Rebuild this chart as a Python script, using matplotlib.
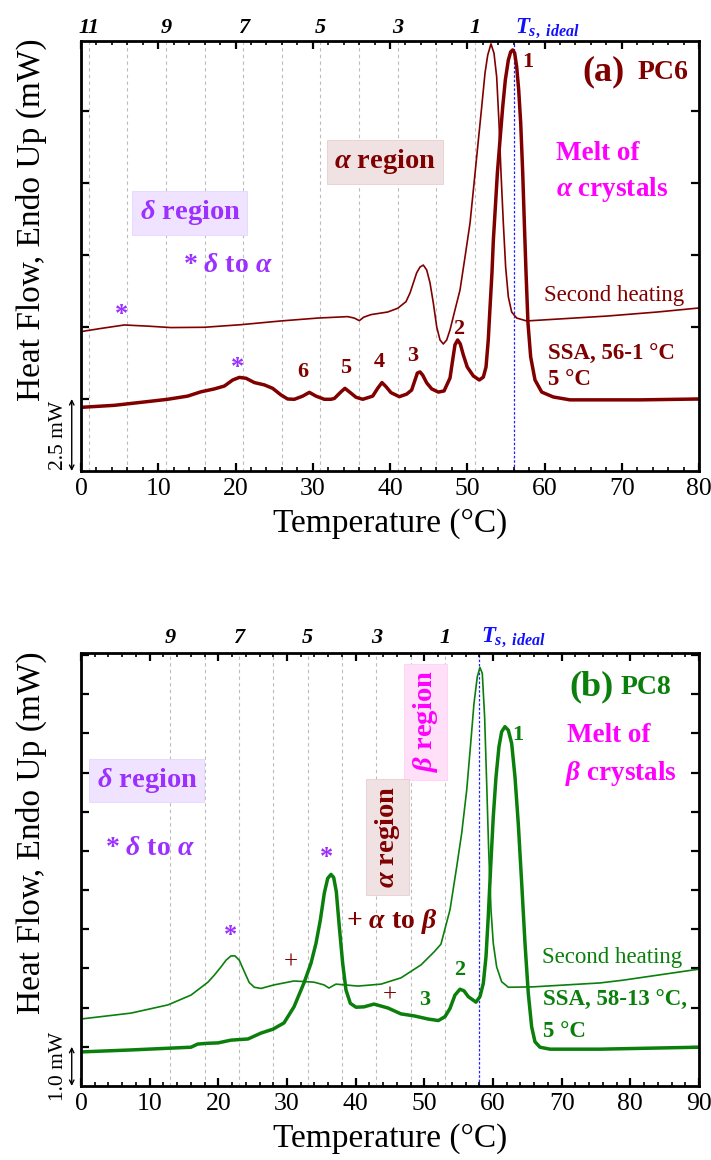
import numpy as np
import matplotlib
matplotlib.use("Agg")
import matplotlib.pyplot as plt
from matplotlib.ticker import MultipleLocator, NullFormatter
import matplotlib.transforms as mtransforms

plt.rcParams['font.family'] = ['Liberation Serif', 'DejaVu Serif']
plt.rcParams['mathtext.fontset'] = 'custom'
plt.rcParams['mathtext.it'] = 'Liberation Serif:italic:bold'
plt.rcParams['mathtext.rm'] = 'Liberation Serif:bold'
plt.rcParams['mathtext.bf'] = 'Liberation Serif:bold'

#%% data, panel (a) PC6  (temperature in °C, heat flow in mW, shifted)

a_ssa_T = [0.0, 4.31, 8.63, 11.22, 13.8, 15.53, 17.26, 18.56, 19.64, 20.5, 21.36, 22.44,
           23.73, 24.81, 25.89, 26.75, 27.62, 28.7, 29.56, 30.42, 31.5, 32.36, 32.8, 33.66,
           34.17, 34.73, 35.6, 36.47, 37.76, 38.4, 38.96, 39.48, 40.13, 41.21, 42.16, 42.8,
           43.24, 43.54, 43.88, 44.23, 44.75, 45.4, 46.26, 47.0, 47.77, 48.11, 48.41, 48.76,
           49.1, 49.49, 50.0, 50.79, 51.56, 52.08, 52.43, 52.72, 52.95, 53.2, 53.38, 53.64,
           53.9, 54.24, 54.59, 54.93, 55.32, 55.62, 55.88, 56.14, 56.40, 56.66, 56.92, 57.18,
           57.39, 57.61, 57.86, 58.21, 58.77, 59.64, 61.14, 63.3, 72.4, 80.0]
a_ssa_H = [2.21, 2.28, 2.41, 2.49, 2.60, 2.75, 2.85, 2.95, 3.16, 3.25, 3.22, 3.07,
           2.99, 2.87, 2.64, 2.50, 2.49, 2.60, 2.73, 2.60, 2.49, 2.49, 2.52, 2.75,
           2.87, 2.75, 2.56, 2.49, 2.60, 2.87, 3.07, 2.93, 2.72, 2.58, 2.67, 2.81,
           3.16, 3.40, 3.44, 3.33, 3.06, 2.85, 2.74, 2.78, 3.23, 3.85, 4.38, 4.55,
           4.41, 4.03, 3.61, 3.30, 3.16, 3.26, 3.61, 4.55, 5.69, 6.88, 8.02, 9.17,
           10.35, 11.49, 12.64, 13.58, 14.27, 14.55, 14.62, 14.51, 14.03, 13.23, 12.08, 10.35,
           8.61, 6.88, 5.14, 3.96, 3.16, 2.74, 2.57, 2.47, 2.47, 2.50]

a_sec_T = [0.0, 2.59, 5.61, 8.63, 11.65, 15.96, 20.71, 25.89, 30.64, 34.52, 35.38, 36.03,
           36.59, 37.54, 39.7, 41.0, 42.07, 42.59, 43.02, 43.45, 43.88, 44.31, 44.75, 45.18,
           45.61, 46.05, 46.47, 46.9, 47.34, 47.77, 48.41, 49.06, 49.71, 50.36, 50.92, 51.44,
           51.87, 52.30, 52.65, 53.07, 53.46, 53.81, 54.11, 54.37, 54.67, 54.97, 55.32, 55.75,
           56.40, 57.69, 62.0, 68.1, 74.6, 80.0]
a_sec_H = [4.84, 4.95, 5.07, 5.03, 4.98, 4.99, 5.08, 5.21, 5.31, 5.36, 5.31, 5.22,
           5.34, 5.43, 5.52, 5.65, 5.88, 6.18, 6.53, 6.88, 7.08, 7.15, 6.98, 6.53,
           5.83, 5.00, 4.55, 4.41, 4.55, 4.90, 5.59, 6.28, 7.43, 8.61, 10.10, 11.49,
           12.64, 13.82, 14.44, 14.83, 14.51, 13.68, 12.08, 10.35, 8.61, 7.08, 6.04, 5.52,
           5.31, 5.21, 5.28, 5.38, 5.52, 5.66]

a_ts = 56
a_steps = [51, 46, 41, 36, 31, 26, 21, 16, 11, 6, 1]
a_step_labels = {51: '1', 41: '3', 31: '5', 21: '7', 11: '9', 1: '11'}

#%% data, panel (b) PC8

b_ssa_T = [0.0, 7.28, 13.54, 16.02, 16.99, 18.45, 19.95, 21.84, 24.32, 26.21, 27.96, 29.56,
           31.02, 32.47, 33.49, 34.22, 34.85, 35.43, 35.93, 36.41, 36.8, 37.18, 37.62, 38.11,
           38.59, 39.22, 40.05, 41.21, 42.67, 44.71, 46.60, 48.49, 50.53, 52.04, 53.01, 53.74,
           54.46, 55.19, 55.77, 56.4, 57.04, 57.52, 58.1, 58.59, 58.98, 59.31, 59.66, 60.04,
           60.44, 60.87, 61.26, 61.74, 62.23, 62.72, 63.2, 63.68, 64.18, 64.66, 65.14, 65.63,
           66.11, 66.84, 68.3, 75.6, 90.0]
b_ssa_H = [0.87, 0.92, 0.97, 0.99, 1.07, 1.09, 1.10, 1.17, 1.20, 1.35, 1.45, 1.61,
           2.02, 2.63, 3.13, 3.64, 4.23, 4.92, 5.30, 5.40, 5.32, 4.96, 4.06, 3.13,
           2.45, 2.11, 2.01, 2.02, 2.09, 1.99, 1.84, 1.79, 1.71, 1.67, 1.77, 1.98,
           2.32, 2.47, 2.43, 2.28, 2.20, 2.14, 2.28, 2.62, 3.30, 4.32, 5.59, 6.87,
           7.89, 8.66, 9.04, 9.17, 9.08, 8.74, 7.89, 6.70, 5.17, 3.64, 2.36, 1.51,
           1.13, 0.99, 0.94, 0.94, 0.99]

b_sec_T = [0.0, 7.28, 12.67, 16.02, 18.49, 19.42, 20.39, 21.12, 21.84, 22.43, 23.05, 23.78,
           24.5, 25.24, 26.21, 28.11, 31.02, 33.93, 35.39, 36.11, 37.13, 40.34, 43.69, 46.60,
           49.51, 51.41, 52.42, 53.74, 54.71, 55.44, 56.17, 56.75, 57.23, 57.71, 58.1, 58.44,
           58.78, 59.08, 59.37, 59.71, 60.04, 60.53, 61.26, 62.23, 65.82, 75.58, 78.93, 89.12,
           90.0]
b_sec_H = [1.71, 1.86, 2.07, 2.32, 2.65, 2.83, 3.04, 3.21, 3.32, 3.32, 3.21, 2.92,
           2.64, 2.52, 2.49, 2.58, 2.68, 2.65, 2.58, 2.50, 2.60, 2.55, 2.60, 2.76,
           3.09, 3.42, 3.62, 4.50, 5.59, 6.45, 7.55, 8.74, 9.76, 10.44, 10.68, 10.53,
           9.42, 7.72, 6.02, 4.49, 3.64, 3.04, 2.66, 2.52, 2.53, 2.63, 2.70, 2.96,
           2.98]

b_ts = 58
b_steps = [53, 48, 43, 38, 33, 28, 23, 18, 13]
b_step_labels = {53: '1', 43: '3', 33: '5', 23: '7', 13: '9'}

#%% colours

dark_red = '#800000'
green = '#0B7F0B'
purple = '#9B30FF'
magenta = '#FF00FF'

#%% figure

fig = plt.figure(figsize=(7.11, 11.6), dpi=100)
ax1 = fig.add_axes([81/711, 1-471/1160, 618/711, 430/1160])
ax2 = fig.add_axes([81/711, 1-1086/1160, 618/711, 433/1160])


def style_axis(ax, xmax, ymax, ystep, scale_txt):
    ax.set_xlim(0, xmax)
    ax.set_ylim(0, ymax)
    ax.xaxis.set_major_locator(MultipleLocator(10))
    ax.xaxis.set_minor_locator(MultipleLocator(2))
    ax.set_yticks(np.arange(ystep, ymax, ystep))
    ax.yaxis.set_major_formatter(NullFormatter())
    ax.tick_params(axis='both', which='major', direction='in', length=6, width=1.6,
                   top=True, right=True, labelsize=18.5, pad=5)
    ax.tick_params(axis='x', which='minor', direction='in', length=3, width=1.2, top=True)
    for s in ax.spines.values():
        s.set_linewidth(2)
    ax.set_xlabel('Temperature (°C)', fontsize=24, labelpad=6)
    ax.set_ylabel('Heat Flow, Endo Up (mW)', fontsize=24)
    ax.yaxis.set_label_coords(-0.055, 0.585)
    trans = mtransforms.blended_transform_factory(ax.transAxes, ax.transData)
    ax.annotate('', xy=(-0.015, 0), xytext=(-0.015, ystep), xycoords=trans, textcoords=trans,
                arrowprops=dict(arrowstyle='<->', lw=1, color='black', shrinkA=0, shrinkB=0,
                                mutation_scale=8),
                annotation_clip=False)
    ax.text(-0.036, ystep/2, scale_txt, transform=trans, rotation=90, fontsize=15.5,
            ha='center', va='center')


def step_lines(ax, steps, labels, ts, ylab):
    for t in steps:
        ax.axvline(t, color='#BBBBBB', lw=0.8, ls=(0, (3, 3)), zorder=0)
    ax.axvline(ts, color='#2020FF', lw=0.9, ls=(0, (2, 1.5)), zorder=1)
    trans = mtransforms.blended_transform_factory(ax.transData, ax.transAxes)
    for t, lab in labels.items():
        ax.text(t, ylab, lab, transform=trans, fontsize=16, fontweight='bold', style='italic',
                ha='center', va='center')
    ax.text(ts + 0.2, ylab, r'$T_{s,\ ideal}$', transform=trans, fontsize=16.5, color='#1010FF',
            ha='left', va='center')


def label(ax, x, y, s, color, size, **kw):
    kw.setdefault('fontweight', 'bold')
    ax.text(x, y, s, color=color, fontsize=size, ha=kw.pop('ha', 'center'), va='center', **kw)


box_red = dict(boxstyle='square,pad=0.25', fc='#F0E2E2', ec='#E6CFCF', lw=0.6)
box_purple = dict(boxstyle='square,pad=0.25', fc='#EFE3FF', ec='#E6D6FF', lw=0.6)
box_pink = dict(boxstyle='square,pad=0.25', fc='#FFE0F8', ec='#FFD0F2', lw=0.6)

#%% panel (a)

style_axis(ax1, 80, 14.93, 2.5, '2.5 mW')
step_lines(ax1, a_steps, a_step_labels, a_ts, 1.03)
ax1.plot(a_sec_T, a_sec_H, color=dark_red, lw=1.2)
ax1.plot(a_ssa_T, a_ssa_H, color=dark_red, lw=2.5)

label(ax1, 67.7, 13.85, '(a)', dark_red, 26)
label(ax1, 75.4, 13.85, 'PC6', dark_red, 20)
label(ax1, 57.9, 14.2, '1', dark_red, 16)
label(ax1, 66.9, 11.04, 'Melt of', magenta, 19.5)
label(ax1, 68.7, 9.76, r'$\alpha$ crystals', magenta, 19.5)
label(ax1, 39.4, 10.73, r'$\alpha$ region', dark_red, 20.5, bbox=box_red)
label(ax1, 14.1, 8.96, r'$\delta$ region', purple, 20.5, bbox=box_purple)
label(ax1, 19.0, 7.12, r'* $\delta$ to $\alpha$', purple, 20)
label(ax1, 5.2, 5.42, '*', purple, 19)
label(ax1, 20.2, 3.61, '*', purple, 19)
label(ax1, 60.0, 6.08, 'Second heating', dark_red, 16.5, ha='left', fontweight='normal')
label(ax1, 60.5, 4.06, 'SSA, 56-1 °C', dark_red, 16.5, ha='left')
label(ax1, 60.5, 3.16, '5 °C', dark_red, 16.5, ha='left')
for t, h, s in [(28.7, 3.44, '6'), (34.2, 3.58, '5'), (38.6, 3.78, '4'), (43.0, 3.99, '3'), (48.9, 4.93, '2')]:
    label(ax1, t, h, s, dark_red, 16)

#%% panel (b)

style_axis(ax2, 90, 11.05, 1.0, '1.0 mW')
step_lines(ax2, b_steps, b_step_labels, b_ts, 1.035)
ax2.plot(b_sec_T, b_sec_H, color=green, lw=1.2)
ax2.plot(b_ssa_T, b_ssa_H, color=green, lw=2.5)

label(ax2, 74.3, 10.18, '(b)', green, 26)
label(ax2, 82.3, 10.18, 'PC8', green, 20)
label(ax2, 63.6, 8.95, '1', green, 16)
label(ax2, 76.8, 8.95, 'Melt of', magenta, 19.5)
label(ax2, 78.6, 7.98, r'$\beta$ crystals', magenta, 19.5)
label(ax2, 50.2, 9.3, r'$\beta$ region', magenta, 20.5, rotation=90, bbox=box_pink)
label(ax2, 44.6, 6.35, r'$\alpha$ region', dark_red, 20.5, rotation=90, bbox=box_red)
label(ax2, 9.6, 7.8, r'$\delta$ region', purple, 20.5, bbox=box_purple)
label(ax2, 10.0, 6.05, r'* $\delta$ to $\alpha$', purple, 20)
label(ax2, 21.8, 3.85, '*', purple, 19)
label(ax2, 35.8, 5.82, '*', purple, 19)
label(ax2, 45.3, 4.21, r'+ $\alpha$ to $\beta$', dark_red, 20)
label(ax2, 30.6, 3.14, '+', dark_red, 18, fontweight='normal')
label(ax2, 45.0, 2.32, '+', dark_red, 18, fontweight='normal')
label(ax2, 50.1, 2.19, '3', green, 16)
label(ax2, 55.2, 2.96, '2', green, 16)
label(ax2, 67.2, 3.29, 'Second heating', green, 16.5, ha='left', fontweight='normal')
label(ax2, 67.3, 2.19, 'SSA, 58-13 °C,', green, 16.5, ha='left')
label(ax2, 67.3, 1.40, '5 °C', green, 16.5, ha='left')

fig.savefig('out.png', dpi=100)
